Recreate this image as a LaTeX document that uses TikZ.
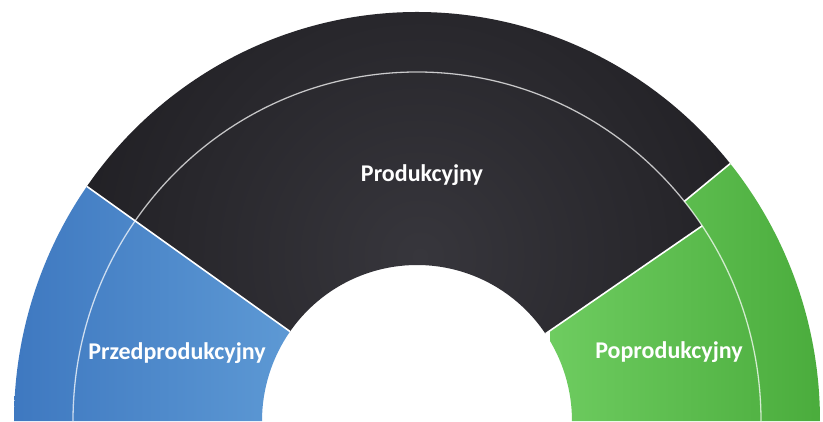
\documentclass[tikz,border=0pt]{standalone}
\usepackage{fontspec}
\setmainfont{Carlito}
\usetikzlibrary{calc}
\definecolor{segblack}{HTML}{19181C}
\definecolor{segblackhi}{HTML}{37363C}
\definecolor{blueL}{RGB}{62,120,192}
\definecolor{blueR}{RGB}{94,154,213}
\definecolor{greenL}{RGB}{110,204,96}
\definecolor{greenR}{RGB}{74,172,60}
% ring segment: #1 start angle, #2 end angle, #3/#4 inner radii, #5/#6 outer radii, #7 options
\newcommand{\segpath}[7]{\path[#7] (417,0) ++(#1:#5 and #6) arc[start angle=#1,end angle=#2,x radius=#5,y radius=#6] -- ($(417,0)+(#2:#3 and #4)$) arc[start angle=#2,end angle=#1,x radius=#3,y radius=#4] -- cycle;}
\tikzset{
  sepline/.style={draw=white, line width=1.6pt},
  ringline/.style={draw=white, draw opacity=0.7, line width=1.3pt},
  lbl/.style={text=white, font=\bfseries\fontsize{24}{28}\selectfont, inner sep=0pt, anchor=base}
}
\begin{document}
\begin{tikzpicture}[x=1pt,y=1pt]
\useasboundingbox (0,0) rectangle (823,421);
\fill[white] (0,0) rectangle (823,421);
% centre of the arcs
\coordinate (c) at (417,0);
% black segments
\begin{scope}
  \segpath{39}{145}{344}{349}{403}{409}{clip}
  \shade[inner color=segblackhi, outer color=segblack] (420,165) circle (480);
\end{scope}
\begin{scope}
  \segpath{34}{145}{155}{156}{344}{349}{clip}
  \shade[inner color=segblackhi, outer color=segblack] (420,165) circle (480);
\end{scope}
% blue segments
\begin{scope}
  \segpath{145}{180}{344}{349}{403}{409}{clip}
  \shade[left color=blueL, right color=blueR] (10,0) rectangle (300,240);
\end{scope}
\begin{scope}
  \segpath{145}{180}{155}{156}{344}{349}{clip}
  \shade[left color=blueL, right color=blueR] (10,0) rectangle (300,240);
\end{scope}
% green segments
\begin{scope}
  \segpath{0}{39}{344}{349}{403}{409}{clip}
  \shade[left color=greenL, right color=greenR] (550,0) rectangle (823,270);
\end{scope}
\begin{scope}
  \segpath{0}{34}{155}{156}{344}{349}{clip}
  \shade[left color=greenL, right color=greenR] (550,0) rectangle (823,270);
\end{scope}
% ring separator
\draw[ringline] ($(c)+(0:344 and 349)$) arc[start angle=0,end angle=180,x radius=344,y radius=349];
% radial separators
\draw[sepline] ($(c)+(145:155 and 156)$) -- ($(c)+(145:403 and 409)$);
\draw[sepline] ($(c)+(34:155 and 156)$) -- ($(c)+(34:344 and 349)$);
\draw[sepline] ($(c)+(39:344 and 349)$) -- ($(c)+(39:403 and 409)$);
% labels
\node[lbl] (prod) at (422,239) {Produkcyjny};
\node[lbl] (przed) at (177,61) {Przedprodukcyjny};
\node[lbl] (popr) at (669,63) {Poprodukcyjny};
\end{tikzpicture}
\end{document}
